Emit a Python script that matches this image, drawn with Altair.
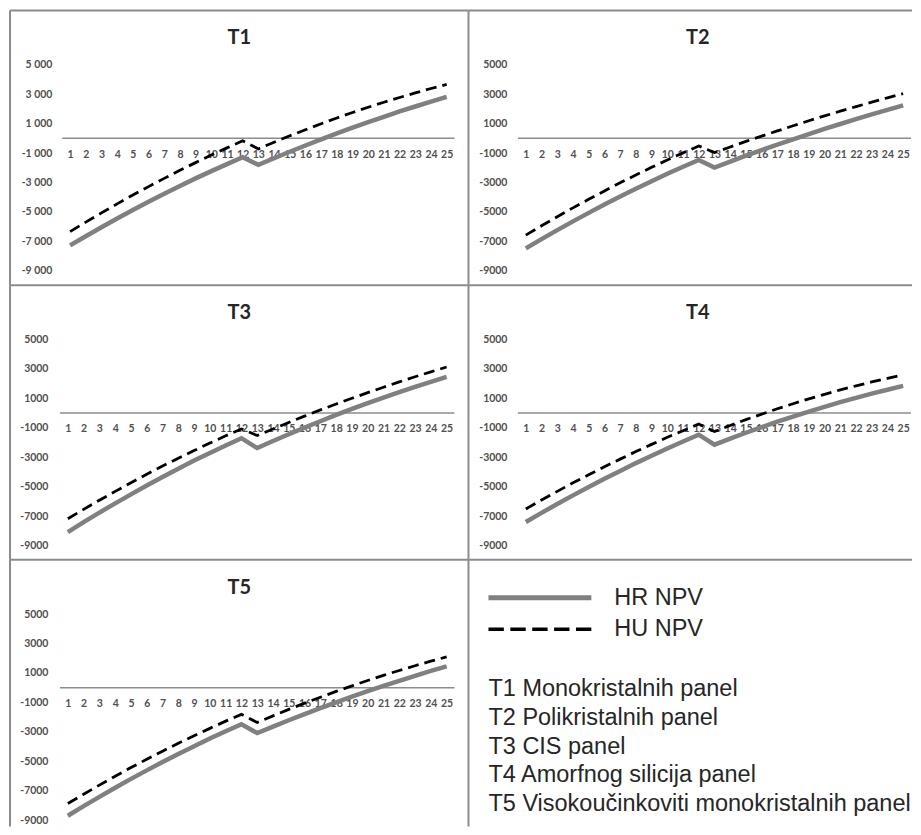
import altair as alt
import pandas as pd

# ---------------- data ----------------
YEARS = list(range(1, 26))
PANELS = ["T1", "T2", "T3", "T4", "T5"]
SERIES = ["HR NPV", "HU NPV"]
DESCRIPTIONS = [
    "T1 Monokristalnih panel",
    "T2 Polikristalnih panel",
    "T3 CIS panel",
    "T4 Amorfnog silicija panel",
    "T5 Visokoučinkoviti monokristalnih panel",
]
Y_TICKS = [5000, 3000, 1000, -1000, -3000, -5000, -7000, -9000]

HR_T1 = [-7270, -6650, -6040, -5440, -4870, -4310, -3760, -3240, -2720, -2230, -1750, -1280,
         -1800, -1350, -910, -490, -70, 330, 720, 1100, 1460, 1820, 2160, 2490, 2810]
HU_T1 = [-6330, -5690, -5060, -4450, -3850, -3280, -2720, -2170, -1650, -1140, -650, -170,
         -720, -270, 170, 580, 990, 1380, 1750, 2110, 2450, 2770, 3080, 3380, 3660]
HR_T2 = [-7470, -6840, -6230, -5640, -5060, -4490, -3950, -3420, -2910, -2410, -1930, -1470,
         -1980, -1580, -1180, -800, -430, -70, 290, 640, 970, 1300, 1620, 1930, 2230]
HU_T2 = [-6570, -5940, -5320, -4720, -4140, -3570, -3020, -2490, -1970, -1470, -990, -520,
         -970, -590, -210, 150, 500, 850, 1190, 1520, 1840, 2150, 2450, 2750, 3030]
HR_T3 = [-8080, -7410, -6760, -6130, -5520, -4920, -4340, -3780, -3230, -2710, -2200, -1710,
         -2380, -1900, -1440, -990, -560, -130, 280, 670, 1050, 1420, 1780, 2120, 2450]
HU_T3 = [-7180, -6540, -5920, -5320, -4730, -4160, -3600, -3070, -2550, -2040, -1550, -1080,
         -1530, -1080, -640, -210, 210, 610, 1000, 1380, 1750, 2110, 2460, 2790, 3120]
HR_T4 = [-7400, -6780, -6180, -5590, -5020, -4470, -3930, -3400, -2900, -2410, -1930, -1470,
         -2150, -1740, -1340, -960, -590, -240, 100, 420, 740, 1030, 1320, 1580, 1840]
HU_T4 = [-6510, -5900, -5320, -4740, -4190, -3650, -3130, -2620, -2130, -1650, -1200, -750,
         -1260, -850, -450, -80, 290, 630, 960, 1270, 1570, 1840, 2110, 2350, 2580]
HR_T5 = [-8690, -8040, -7410, -6790, -6190, -5610, -5050, -4500, -3970, -3450, -2960, -2480,
         -3080, -2640, -2210, -1790, -1390, -990, -610, -240, 120, 470, 810, 1140, 1450]
HU_T5 = [-7860, -7230, -6610, -6010, -5420, -4860, -4310, -3770, -3260, -2760, -2270, -1810,
         -2360, -1910, -1470, -1050, -650, -250, 120, 490, 840, 1170, 1490, 1800, 2090]

HR = {"T1": HR_T1, "T2": HR_T2, "T3": HR_T3, "T4": HR_T4, "T5": HR_T5}
HU = {"T1": HU_T1, "T2": HU_T2, "T3": HU_T3, "T4": HU_T4, "T5": HU_T5}

# ---------------- layout / style ----------------
W_LEFT, W_RIGHT = 459, 444
ROW_H = [275, 275, 267]
ZERO_Y = 128
UNITS_PER_PX = 2000 / 29.5
BORDER = "#8c8c8c"
TICK_COLOR = "#505050"
TITLE_X = 229.5

LAYOUT = {
    "T1": dict(x0=52.3, x1=445.0, lab=42.0, sep=True, w=W_LEFT, h=ROW_H[0]),
    "T2": dict(x0=49.5, x1=443.0, lab=38.5, sep=False, w=W_RIGHT, h=ROW_H[0]),
    "T3": dict(x0=50.0, x1=445.0, lab=38.0, sep=False, w=W_LEFT, h=ROW_H[1]),
    "T4": dict(x0=49.5, x1=443.0, lab=38.5, sep=False, w=W_RIGHT, h=ROW_H[1]),
    "T5": dict(x0=50.0, x1=445.0, lab=38.0, sep=False, w=W_LEFT, h=ROW_H[2]),
}


def frame(w, h):
    """Top and left border lines of a panel."""
    one = pd.DataFrame({"k": [0]})
    top = alt.Chart(one).mark_rule(color=BORDER, strokeWidth=2).encode(
        x=alt.value(0), x2=alt.value(w), y=alt.value(0))
    left = alt.Chart(one).mark_rule(color=BORDER, strokeWidth=2).encode(
        x=alt.value(0), y=alt.value(0), y2=alt.value(h))
    return [top, left]


def panel(name):
    lay = LAYOUT[name]
    W, H = lay["w"], lay["h"]
    per = (lay["x1"] - lay["x0"]) / len(YEARS)
    lo = YEARS[0] - 0.5 - lay["x0"] / per
    hi = YEARS[-1] + 0.5 + (W - lay["x1"]) / per
    ytop = ZERO_Y * UNITS_PER_PX
    ybot = -(H - ZERO_Y) * UNITS_PER_PX

    xs = alt.Scale(domain=[lo, hi], nice=False, zero=False)
    ys = alt.Scale(domain=[ybot, ytop], nice=False, zero=False)

    if lay["sep"]:
        expr = "(datum.value < 0 ? '-' : '') + replace(format(abs(datum.value), ','), ',', ' ')"
    else:
        expr = "(datum.value < 0 ? '-' : '') + format(abs(datum.value), 'd')"

    xaxis = alt.Axis(values=YEARS, orient="bottom", offset=-(H - ZERO_Y), domain=False,
                     ticks=False, grid=False, labelPadding=11, labelFont="Lato",
                     labelFontSize=10.5, labelFontWeight="bold", labelColor=TICK_COLOR,
                     labelOverlap=False, labelFlush=False, labelBound=False, title=None)
    yaxis = alt.Axis(values=Y_TICKS, orient="left", offset=-lay["lab"], domain=False,
                     ticks=False, grid=False, labelPadding=0, labelFont="Lato",
                     labelFontSize=10.5, labelFontWeight="bold", labelColor=TICK_COLOR,
                     labelOverlap=False, labelFlush=False, labelBound=False,
                     labelExpr=expr, title=None)

    df = pd.DataFrame({
        "year": YEARS + YEARS,
        "value": HR[name] + HU[name],
        "series": [SERIES[0]] * len(YEARS) + [SERIES[1]] * len(YEARS),
    })
    zero_df = pd.DataFrame({"year": [YEARS[0] - 0.5], "year_end": [YEARS[-1] + 0.5], "value": [0]})

    zero = alt.Chart(zero_df).mark_rule(color=BORDER, strokeWidth=1.5).encode(
        x=alt.X("year:Q", scale=xs, axis=xaxis),
        x2="year_end:Q",
        y=alt.Y("value:Q", scale=ys, axis=yaxis),
    )
    hr = alt.Chart(df).transform_filter(alt.datum.series == SERIES[0]).mark_line(
        color="#808080", strokeWidth=4.5).encode(
        x=alt.X("year:Q", scale=xs, axis=xaxis),
        y=alt.Y("value:Q", scale=ys, axis=yaxis),
    )
    hu = alt.Chart(df).transform_filter(alt.datum.series == SERIES[1]).mark_line(
        color="#000000", strokeWidth=2.8, strokeDash=[11, 6]).encode(
        x=alt.X("year:Q", scale=xs, axis=xaxis),
        y=alt.Y("value:Q", scale=ys, axis=yaxis),
    )
    ttl = alt.Chart(pd.DataFrame({"t": [name]})).mark_text(
        font="Lato", fontWeight="bold", fontSize=20, color="#262626", baseline="middle"
    ).encode(text="t:N", x=alt.value(TITLE_X), y=alt.value(28))

    return alt.layer(zero, hr, hu, ttl, *frame(W, H)).properties(width=W, height=H)


def legend_panel():
    W, H = W_RIGHT, ROW_H[2]
    leg_df = pd.DataFrame({"label": SERIES, "idx": [0, 1]})
    desc_df = pd.DataFrame({"text": DESCRIPTIONS, "idx": list(range(len(DESCRIPTIONS)))})
    ys_leg = alt.Scale(domain=[0, 1], range=[38, 69.5])
    ys_desc = alt.Scale(domain=[0, len(DESCRIPTIONS) - 1], range=[129.5, 244.5])

    solid = alt.Chart(leg_df).transform_filter(alt.datum.idx == 0).mark_rule(
        color="#808080", strokeWidth=5).encode(
        x=alt.value(20), x2=alt.value(123), y=alt.Y("idx:Q", scale=ys_leg, axis=None))
    dashed = alt.Chart(leg_df).transform_filter(alt.datum.idx == 1).mark_rule(
        color="#000000", strokeWidth=3.5, strokeDash=[15.4, 6.5]).encode(
        x=alt.value(20), x2=alt.value(123), y=alt.Y("idx:Q", scale=ys_leg, axis=None))
    labels = alt.Chart(leg_df).mark_text(
        align="left", baseline="middle", font="Liberation Sans", fontSize=23.5, color="#262626"
    ).encode(x=alt.value(146), y=alt.Y("idx:Q", scale=ys_leg, axis=None), text="label:N")
    desc = alt.Chart(desc_df).mark_text(
        align="left", baseline="middle", font="Liberation Sans", fontSize=23.5, color="#262626"
    ).encode(x=alt.value(20), y=alt.Y("idx:Q", scale=ys_desc, axis=None), text="text:N")

    return alt.layer(solid, dashed, labels, desc, *frame(W, H)).resolve_scale(
        y="independent").properties(width=W, height=H)


charts = [panel(p) for p in PANELS] + [legend_panel()]

chart = alt.concat(*charts, columns=2, spacing=0, bounds="flush", align="each").properties(
    padding={"left": 1, "top": 1, "right": 0, "bottom": 0}
).configure_view(strokeWidth=0)

chart.save("out.html", embed_options={"renderer": "svg", "actions": False})
